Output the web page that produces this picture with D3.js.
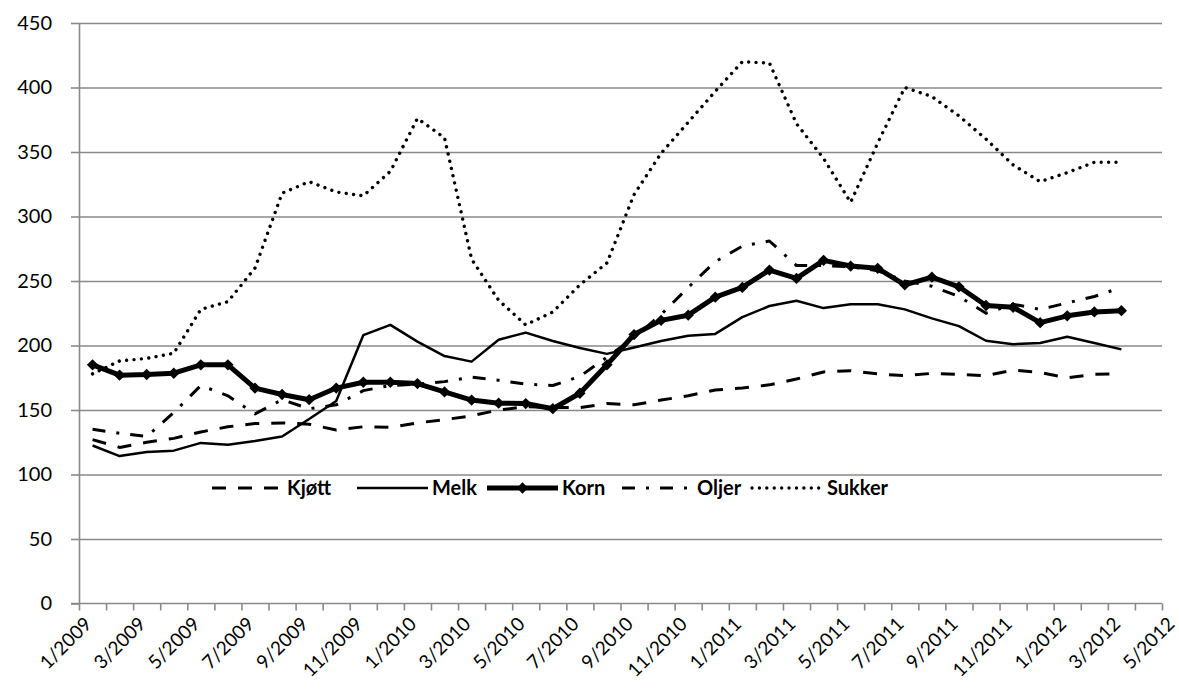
<!DOCTYPE html>
<html>
<head>
<meta charset="utf-8">
<script src="https://cdn.jsdelivr.net/npm/d3@7"></script>
<style>
  html, body { margin: 0; padding: 0; background: #ffffff; }
  svg { display: block; }
  text { font-family: Lato, "Open Sans", sans-serif; fill: #000; }
</style>
</head>
<body>
<svg id="chart" width="1179" height="698"></svg>
<script>
// ---- Data ----
const months = ["1/2009","2/2009","3/2009","4/2009","5/2009","6/2009","7/2009","8/2009","9/2009","10/2009","11/2009","12/2009",
                "1/2010","2/2010","3/2010","4/2010","5/2010","6/2010","7/2010","8/2010","9/2010","10/2010","11/2010","12/2010",
                "1/2011","2/2011","3/2011","4/2011","5/2011","6/2011","7/2011","8/2011","9/2011","10/2011","11/2011","12/2011",
                "1/2012","2/2012","3/2012","4/2012","5/2012"];
const seriesNames = ["Kjøtt", "Melk", "Korn", "Oljer", "Sukker"];
const kjott  = [127,121,125,128,133,137,139.5,140,139,134.5,137,136.5,140,142.5,145.5,150,152.5,152,151.8,155,154,157.7,161,165.5,167,169.5,174,179.5,180.5,178,176.6,178.4,177.7,176.6,181,179,175,177.7,178];
const melk   = [122.5,114.3,117.5,118.5,124.5,123,126,129.5,143,157,208,216,203,191.8,187.5,204.5,210,203.5,198,193.5,198.5,203.5,207.5,209,222,230.6,234.7,229,232,232,228,221,215,203.7,201,202,206.8,202,197];
const korn   = [185,177,177.5,178.5,185,185,167,162,158,167,171.5,171.5,170.5,164,157.7,155.3,155,151,163,185,208.5,219.5,223.5,237.5,245,258.5,252,266,261.6,259.8,247,253,245.5,231,229.6,217.7,223,226,227];
const oljer  = [135,132,129.5,148,169,161,147,158,151,154,165,169,170,172,175.5,173,170,169,176,191,206,224,245,265,277,281,262,262,261,258,250,246,238,225,232,228,233,238,245];
const sukker = [178,188,190,194,228,234,260,318,327,319,316,335,376,361,267,235,216,226,247,264,317,349,373,397,420,419,372,345,311,357,400,393,378,360,340,327,334,342,342];
const yTicks = [0,50,100,150,200,250,300,350,400,450];

// ---- Layout ----
const svg = d3.select("#chart");
const W = 1179, H = 698;
const mLeft = 79, mRight = 1162, mTop = 23, mBottom = 603.5;
const gridColor = "#8a8a8a";

svg.append("rect").attr("width", W).attr("height", H).attr("fill", "#fff");

const nCat = 40; // category slots between first and last tick
const x = d3.scaleLinear().domain([0, nCat]).range([mLeft, mRight]);
const y = d3.scaleLinear().domain([0, 450]).range([mBottom, mTop]);
const cx = i => x(i + 0.5);

// gridlines + y axis
const grid = svg.append("g")
  .attr("transform", `translate(${mLeft},0)`)
  .call(d3.axisRight(y).tickValues(yTicks.filter(v => v > 0)).tickSize(mRight - mLeft).tickFormat(""));
grid.select(".domain").remove();
grid.selectAll(".tick line").attr("stroke", gridColor).attr("stroke-width", 1.6);

const yAxis = svg.append("g")
  .attr("transform", `translate(${mLeft},0)`)
  .call(d3.axisLeft(y).tickValues(yTicks).tickSize(8).tickPadding(19).tickSizeOuter(0));
yAxis.select(".domain").attr("stroke", gridColor).attr("stroke-width", 1.6);
yAxis.selectAll(".tick line").attr("stroke", gridColor).attr("stroke-width", 1.6);
yAxis.selectAll(".tick text").style("font-size", "20px").style("font-family", "Lato, sans-serif").attr("fill", "#000");

// x axis ticks
const xAxis = svg.append("g")
  .attr("transform", `translate(0,${mBottom})`)
  .call(d3.axisBottom(x).tickValues(d3.range(0, nCat + 1)).tickSize(7).tickSizeOuter(0).tickFormat(""));
xAxis.select(".domain").attr("stroke", gridColor).attr("stroke-width", 1.6).attr("d", `M${mLeft - 8},0H${mRight}`);
xAxis.selectAll(".tick line").attr("stroke", gridColor).attr("stroke-width", 1.6);

// x labels (every second month, at category centres)
const labelIdx = d3.range(0, months.length, 2);
const xLab = svg.append("g")
  .attr("transform", `translate(0,${mBottom})`)
  .call(d3.axisBottom(x).tickValues(labelIdx.map(i => i + 0.5)).tickSize(0)
        .tickFormat(v => months[Math.round(v - 0.5)]));
xLab.select(".domain").remove();
xLab.selectAll(".tick text")
  .style("font-size", "19px").style("font-family", "Lato, sans-serif").attr("fill", "#000")
  .attr("text-anchor", "end")
  .attr("x", 0).attr("y", 0).attr("dy", "0.35em")
  .attr("transform", "translate(-5,17) rotate(-45)");

// ---- Series ----
const styles = {
  "Kjøtt":  { data: kjott,  width: 3,   dash: "14,12", cap: "butt" },
  "Melk":   { data: melk,   width: 2.5, dash: null,    cap: "butt" },
  "Korn":   { data: korn,   width: 5,   dash: null,    cap: "butt", marker: true },
  "Oljer":  { data: oljer,  width: 3,   dash: "13,11,3,11", cap: "butt" },
  "Sukker": { data: sukker, width: 3.4, dash: "0.01,7.4", cap: "round" }
};

const line = d3.line().x((d, i) => cx(i)).y(d => y(d));
const plot = svg.append("g");

seriesNames.forEach(name => {
  const s = styles[name];
  plot.append("path")
    .datum(s.data)
    .attr("d", line)
    .attr("fill", "none")
    .attr("stroke", "#000")
    .attr("stroke-width", s.width)
    .attr("stroke-linejoin", "round")
    .attr("stroke-linecap", s.cap)
    .attr("stroke-dasharray", s.dash);
  if (s.marker) {
    plot.append("g").selectAll("path")
      .data(s.data)
      .join("path")
      .attr("d", d3.symbol(d3.symbolSquare, 64))
      .attr("transform", (d, i) => `translate(${cx(i)},${y(d)}) rotate(45)`)
      .attr("fill", "#000");
  }
});

// ---- Legend ----
const legendY = 488;
const legendItems = [
  { name: "Kjøtt",  x0: 212 },
  { name: "Melk",   x0: 357 },
  { name: "Korn",   x0: 487 },
  { name: "Oljer",  x0: 622 },
  { name: "Sukker", x0: 752 }
];
const lg = svg.append("g");
legendItems.forEach(it => {
  const s = styles[it.name];
  const len = 71;
  lg.append("path")
    .attr("d", `M${it.x0},${legendY}H${it.x0 + len}`)
    .attr("fill", "none").attr("stroke", "#000")
    .attr("stroke-width", s.width)
    .attr("stroke-linecap", s.cap)
    .attr("stroke-dasharray", s.dash);
  if (s.marker) {
    lg.append("path")
      .attr("d", d3.symbol(d3.symbolSquare, 64))
      .attr("transform", `translate(${it.x0 + len / 2},${legendY}) rotate(45)`)
      .attr("fill", "#000");
  }
  lg.append("text")
    .attr("x", it.x0 + len + 4).attr("y", legendY).attr("dy", "0.35em")
    .style("font-size", "20px").style("font-weight", "bold")
    .text(it.name);
});
</script>
</body>
</html>
